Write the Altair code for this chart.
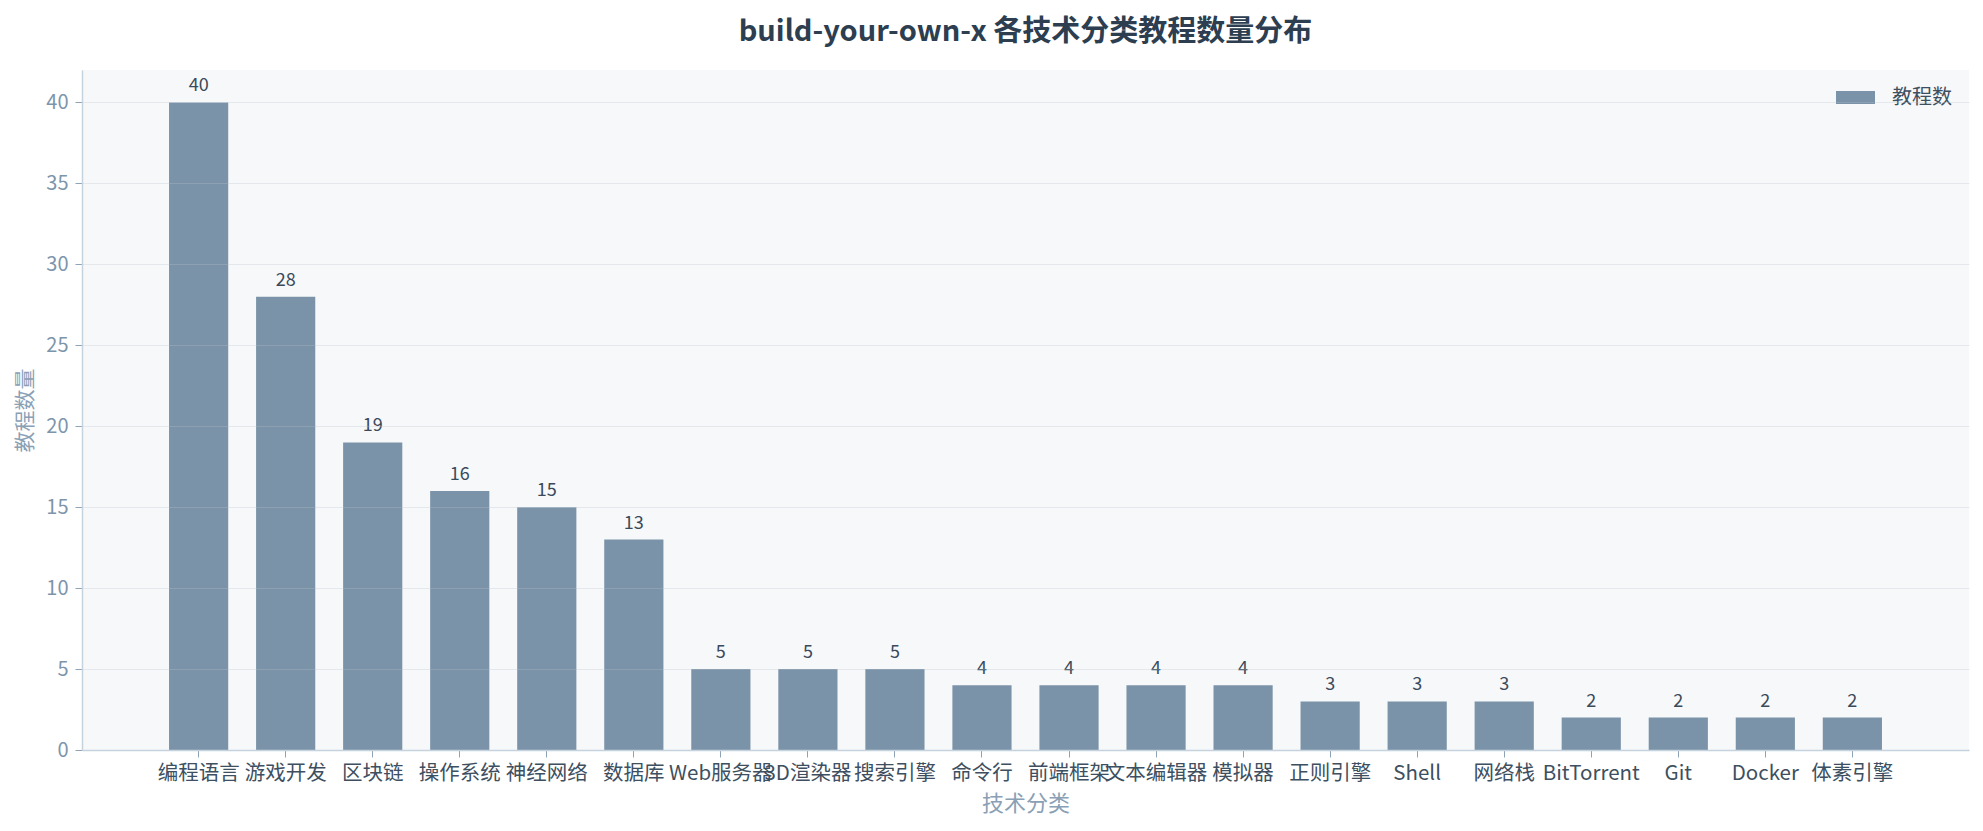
import altair as alt
import pandas as pd

categories = ["编程语言", "游戏开发", "区块链", "操作系统", "神经网络", "数据库", "Web服务器",
              "3D渲染器", "搜索引擎", "命令行", "前端框架", "文本编辑器", "模拟器", "正则引擎",
              "Shell", "网络栈", "BitTorrent", "Git", "Docker", "体素引擎"]
counts = [40, 28, 19, 16, 15, 13, 5, 5, 5, 4, 4, 4, 4, 3, 3, 3, 2, 2, 2, 2]
series_name = "教程数"
y_ticks = [0, 5, 10, 15, 20, 25, 30, 35, 40]

df = pd.DataFrame({"cat": categories, "count": counts, "series": [series_name] * len(categories)})

FONT = "Noto Sans CJK SC"
BAR = "#7b93a8"

x_enc = alt.X("cat:N", sort=None, title="技术分类",
              scale=alt.Scale(paddingInner=0.32, paddingOuter=1.0),
              axis=alt.Axis(labelAngle=0, labelOverlap=False, labelFontSize=20.5, labelColor="#3d4f60",
                            labelFont=FONT, labelPadding=6, tickSize=7, tickColor="#8fa3b7",
                            domainColor="#c5d3df", domainWidth=1.5, titleFontSize=22,
                            titleColor="#8aa0b5", titleFont=FONT, titleFontWeight="normal",
                            titlePadding=10, grid=False, zindex=1))
y_enc = alt.Y("count:Q", title="教程数量",
              scale=alt.Scale(domain=[0, 42], nice=False),
              axis=alt.Axis(values=y_ticks, labelFontSize=20, labelColor="#7d95ab", labelFont=FONT,
                            labelPadding=7, tickSize=7, tickColor="#8fa3b7", domainColor="#c5d3df",
                            domainWidth=1.5, titleFontSize=21, titleColor="#8aa0b5", titleFont=FONT,
                            titleFontWeight="normal", titlePadding=10, grid=True,
                            gridColor="#b9c3cc", gridOpacity=0.3, gridWidth=1.2, zindex=1))

bars = alt.Chart(df).mark_bar().encode(
    x=x_enc,
    y=y_enc,
    color=alt.Color("series:N", scale=alt.Scale(domain=[series_name], range=[BAR]),
                    legend=alt.Legend(title=None, orient="none", legendX=1754, legendY=8, padding=0,
                                      symbolType="M-1,-0.33H1V0.33H-1Z", symbolSize=1521,
                                      symbolStrokeWidth=0, symbolOpacity=1, labelFontSize=20,
                                      labelFont=FONT, labelColor="#3d4f60", labelOffset=17)),
)

labels = alt.Chart(df).mark_text(baseline="alphabetic", dy=-11, fontSize=18, font=FONT,
                                 color="#3a4a5a").encode(
    x=alt.X("cat:N", sort=None),
    y=alt.Y("count:Q"),
    text=alt.Text("count:Q"),
)

chart = alt.layer(bars, labels).properties(
    width=1887,
    height=680,
    padding={"left": 6, "top": 10, "right": 5, "bottom": 2},
    title=alt.TitleParams("build-your-own-x 各技术分类教程数量分布", fontSize=29, fontWeight="bold",
                          color="#2c3e50", font=FONT, anchor="middle", frame="group", offset=23),
    background="white",
).configure_view(fill="#f7f8fa", strokeWidth=0)

chart.save("out.html", embed_options={"renderer": "svg", "actions": False})
